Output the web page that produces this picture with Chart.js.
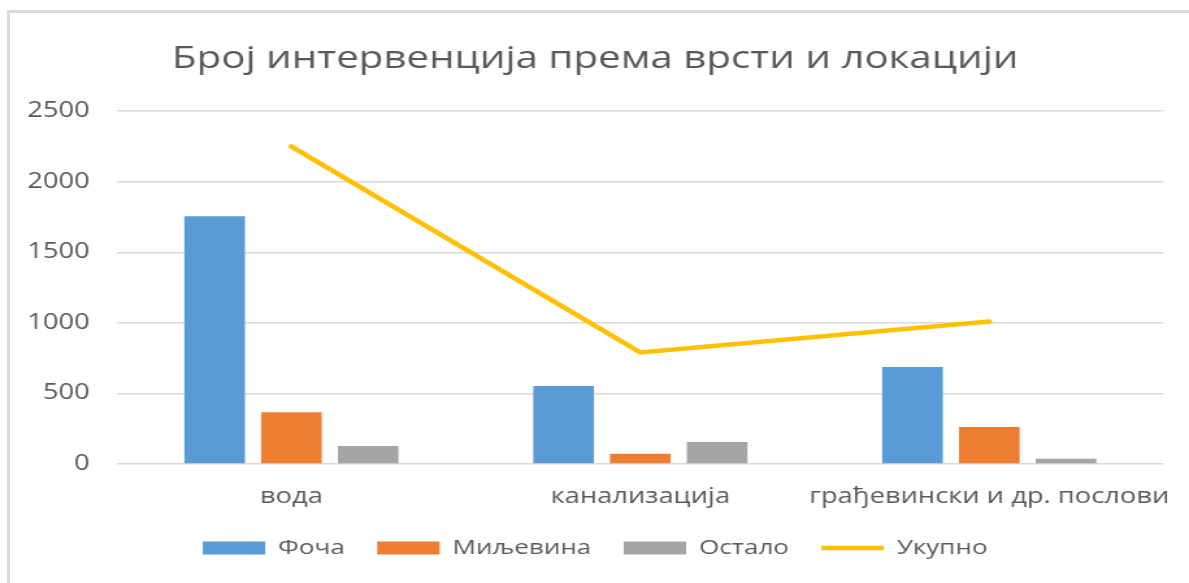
<!DOCTYPE html>
<html>
<head>
<meta charset="utf-8">
<script src="https://cdn.jsdelivr.net/npm/chart.js@4.4.1/dist/chart.umd.min.js"></script>
<style>
  html, body { margin: 0; padding: 0; background: #fff; overflow: hidden; }
  #wrap { position: relative; width: 1189px; height: 583px; }
  #frame {
    position: absolute; left: 7px; top: 10px; right: -10px; bottom: -10px;
    border-left: 3px solid #d9d9d9; border-top: 3px solid #d9d9d9;
  }
  #chart { position: absolute; left: 0; top: 0; }
</style>
</head>
<body>
<div id="wrap">
  <div id="frame"></div>
  <!-- the original picture is stretched sideways, so the canvas is drawn narrower and widened by css -->
  <canvas id="chart" width="915" height="583" style="width:1189px;height:583px"></canvas>
</div>
<script>
// Интервенције по врсти и локацији
const categories = ["вода", "канализација", "грађевински и др. послови"];
const foca = [1755, 553, 688];
const miljevina = [367, 72, 262];
const ostalo = [128, 156, 37];
const ukupno = [2250, 790, 1010];
const yTicks = [0, 500, 1000, 1500, 2000, 2500];

const textColor = "#595959";
const fontFamily = "'Open Sans', 'DejaVu Sans', sans-serif";

const ctx = document.getElementById("chart");

new Chart(ctx, {
  type: "bar",
  data: {
    labels: categories,
    datasets: [
      {
        label: "Фоча",
        data: foca,
        backgroundColor: "#5B9BD5",
        pointStyle: "rect",
        categoryPercentage: 0.66,
        barPercentage: 0.79,
      },
      {
        label: "Миљевина",
        data: miljevina,
        backgroundColor: "#ED7D31",
        pointStyle: "rect",
        categoryPercentage: 0.66,
        barPercentage: 0.79,
      },
      {
        label: "Остало",
        data: ostalo,
        backgroundColor: "#A5A5A5",
        pointStyle: "rect",
        categoryPercentage: 0.66,
        barPercentage: 0.79,
      },
      {
        type: "line",
        label: "Укупно",
        data: ukupno,
        borderColor: "#FFC000",
        backgroundColor: "#FFC000",
        borderWidth: 4.5,
        borderCapStyle: "round",
        pointRadius: 0,
        pointStyle: "line",
        tension: 0,
      },
    ],
  },
  options: {
    responsive: false,
    animation: false,
    layout: {
      padding: { left: 20, right: 19, top: 20, bottom: 15 },
    },
    plugins: {
      title: {
        display: true,
        text: "Број интервенција према врсти и локацији",
        color: textColor,
        font: { family: fontFamily, size: 31, weight: "normal" },
        padding: { top: 21, bottom: 33 },
      },
      legend: {
        position: "bottom",
        labels: {
          usePointStyle: true,
          pointStyleWidth: 48,
          boxHeight: 13,
          color: textColor,
          font: { family: fontFamily, size: 20 },
          padding: 25,
        },
      },
      tooltip: { enabled: false },
    },
    scales: {
      x: {
        grid: { display: false },
        border: { display: false },
        afterFit: function (scale) {
          scale.height = 49;
        },
        ticks: {
          color: textColor,
          font: { family: fontFamily, size: 21 },
          padding: 12,
          maxRotation: 0,
          autoSkip: false,
        },
      },
      y: {
        min: 0,
        max: 2500,
        afterBuildTicks: function (scale) {
          scale.ticks = yTicks.map((v) => ({ value: v }));
        },
        afterFit: function (scale) {
          scale.width = 70;
        },
        grid: { color: "#d9d9d9", lineWidth: 1.5, drawTicks: false },
        border: { display: false },
        ticks: {
          color: textColor,
          font: { family: fontFamily, size: 21 },
          padding: 21,
          callback: function (value) {
            return String(value);
          },
        },
      },
    },
  },
});
</script>
</body>
</html>
